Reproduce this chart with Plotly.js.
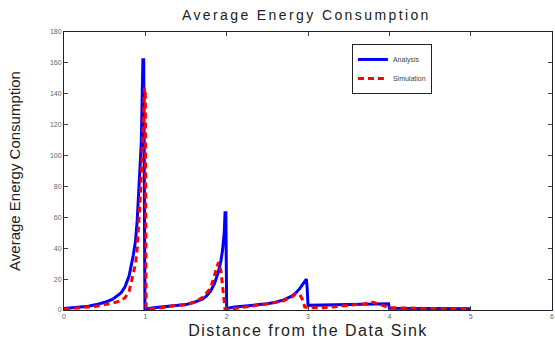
<!DOCTYPE html>
<html>
<head>
<meta charset="utf-8">
<script src="https://cdn.plot.ly/plotly-3.0.1.min.js"></script>
<style>
html,body{margin:0;padding:0;background:#fff;}
#chart{width:555px;height:340px;}
.gtitle{letter-spacing:2.4px;}
.xtitle{letter-spacing:1.5px;}
</style>
</head>
<body>
<div id="chart"></div>
<script>
var analysisX = [0, 0.1, 0.2, 0.3, 0.4, 0.5, 0.6, 0.7, 0.75, 0.8, 0.85, 0.88, 0.9, 0.92, 0.94, 0.95, 0.96, 0.97, 0.98, 0.985, 0.99,
                 0.995, 1.1, 1.2, 1.3, 1.4, 1.5, 1.6, 1.7, 1.75, 1.8, 1.85, 1.9, 1.93, 1.95, 1.97, 1.98, 1.99, 1.995,
                 2.0, 2.1, 2.2, 2.3, 2.4, 2.5, 2.6, 2.7, 2.8, 2.85, 2.9, 2.95, 2.97, 2.98, 2.99,
                 3.0, 3.5, 3.9, 3.99, 4.0, 4.5, 5.0];
var analysisY = [1, 1.5, 2, 2.5, 3.5, 5, 7, 11, 15, 22, 35, 45, 58, 75, 95, 108, 135, 162, 162, 100, 60,
                 0.5, 1.5, 2, 2.5, 3, 3.5, 5, 7, 9, 12, 17, 25, 32, 39, 50, 63, 63, 1,
                 1, 2, 2.5, 3, 3.5, 4, 5, 6.5, 9, 11, 14, 18, 20, 20, 14,
                 3, 3.5, 4, 4, 1.2, 1, 0.8];
var simX = [0, 0.1, 0.2, 0.3, 0.4, 0.5, 0.6, 0.7, 0.75, 0.8, 0.85, 0.88, 0.9, 0.92, 0.94, 0.96, 0.98, 0.99, 1.0, 1.005, 1.01,
            1.1, 1.2, 1.3, 1.4, 1.5, 1.6, 1.7, 1.8, 1.85, 1.88, 1.9, 1.93, 1.96, 1.98,
            2.1, 2.3, 2.5, 2.7, 2.8, 2.85, 2.9, 2.93, 2.96, 3.0,
            3.2, 3.4, 3.6, 3.7, 3.8, 3.9, 4.0, 4.5, 5.0];
var simY = [0.5, 0.8, 1.5, 2, 2.5, 3.5, 4.5, 6, 8, 12, 24, 30, 40, 55, 75, 100, 125, 144, 140, 100, 0.5,
            1, 1.5, 2.5, 3, 3.5, 5, 8, 14, 22, 28, 31, 25, 10, 0.5,
            1, 2.5, 4, 6, 8.5, 10.5, 10, 7, 2, 1.5,
            1.5, 2.5, 3.5, 4, 5, 3, 1.5, 1, 0.5];
var xTicks = [0, 1, 2, 3, 4, 5, 6];
var yTicks = [0, 20, 40, 60, 80, 100, 120, 140, 160, 180];

var traces = [
  {x: analysisX, y: analysisY, mode: 'lines', name: 'Analysis',
   line: {color: '#0000ff', width: 3}},
  {x: simX, y: simY, mode: 'lines', name: 'Simulation',
   line: {color: '#ff0000', width: 3, dash: '6px,4px'}}
];
var fam = 'Liberation Sans, Arial, sans-serif';
var tickFont = {family: fam, size: 7, color: '#666'};
var layout = {
  width: 555, height: 340,
  margin: {l: 64, r: 3, t: 32, b: 30},
  paper_bgcolor: '#fff', plot_bgcolor: '#fff',
  showlegend: true,
  title: {text: 'Average Energy Consumption', x: 0.552, xref: 'container', y: 0.955, yref: 'container',
          xanchor: 'center', yanchor: 'middle',
          font: {family: fam, size: 14, color: '#222'}},
  xaxis: {range: [0, 6], tickvals: xTicks, ticktext: xTicks.map(String), ticks: 'inside', ticklen: 4,
          showline: true, mirror: 'ticks', linecolor: '#222', linewidth: 1, showgrid: false, zeroline: false,
          tickfont: tickFont,
          title: {text: 'Distance from the Data Sink', standoff: 5,
                  font: {family: fam, size: 16, color: '#222'}}},
  yaxis: {range: [0, 180], tickvals: yTicks, ticktext: yTicks.map(String), ticks: 'inside', ticklen: 4,
          showline: true, mirror: 'ticks', linecolor: '#222', linewidth: 1, showgrid: false, zeroline: false,
          tickfont: tickFont,
          title: {text: 'Average Energy Consumption', standoff: 25,
                  font: {family: fam, size: 15, color: '#222'}}},
  legend: {x: 0.59, y: 0.957, xanchor: 'left', yanchor: 'top', bgcolor: '#fff',
           bordercolor: '#222', borderwidth: 1, tracegroupgap: 0, itemwidth: 30,
           font: {family: fam, size: 7, color: '#444'}}
};
Plotly.newPlot('chart', traces, layout, {displayModeBar: false, staticPlot: true});
</script>
</body>
</html>
